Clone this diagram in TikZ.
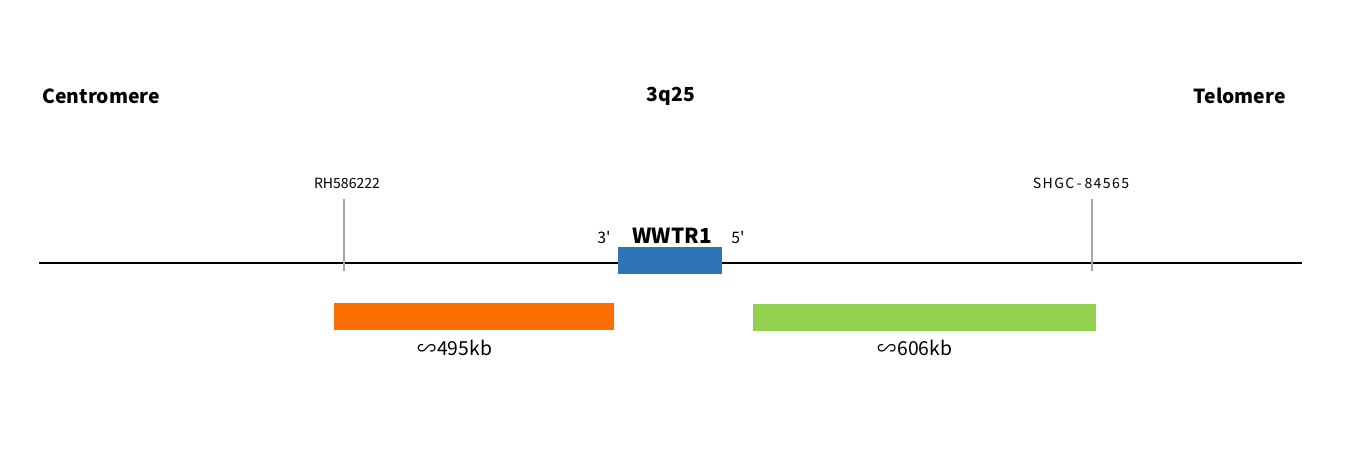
\documentclass[tikz,border=0pt]{standalone}
\usepackage{fontspec}
\setmainfont{Noto Sans CJK SC}
\definecolor{genecol}{HTML}{2E75B6}
\definecolor{leftcol}{HTML}{FF6F00}
\definecolor{rightcol}{HTML}{92D050}
\definecolor{markcol}{HTML}{A6A6A6}
\begin{document}
\begin{tikzpicture}[x=0.02cm, y=0.02cm, every node/.style={inner sep=0pt, font=\fontsize{8}{9}\selectfont}]
    \useasboundingbox (0,0) rectangle (1350,450);
    \tikzset{
      title/.style={font=\bfseries\fontsize{11}{13}\selectfont},
      marker/.style={draw=markcol, line width=1.1pt},
      bar/.style={inner sep=0pt, minimum height=27*0.02cm},
      size/.style={font=\fontsize{11}{13}\selectfont},
      prime/.style={font=\fontsize{9}{10}\selectfont\addfontfeature{Ligatures=TeXOff}}
    }
    % Titles
    \node (cen) [title, anchor=west] at (42,354) {Centromere};
    \node (band) [title] at (671,354) {3q25};
    \node (tel) [title, anchor=east] at (1286,354) {Telomere};
    % Chromosome line
    \coordinate (lstart) at (39,187);
    \coordinate (lend) at (1302,187);
    \draw[line width=1.1pt] (lstart) -- (lend);
    % Markers
    \coordinate (mA) at (344,251);
    \coordinate (mAb) at (344,179);
    \coordinate (mB) at (1092,251);
    \coordinate (mBb) at (1092,179);
    \draw[marker] (mA) -- (mAb);
    \draw[marker] (mB) -- (mBb);
    \node (rh) at (347,267) {RH586222};
    \node (shgc) at (1081,267) {\addfontfeature{LetterSpace=10}SHGC\kern1.5pt-\kern1.5pt84565};
    % Gene
    \node (gene) [fill=genecol, bar, minimum width=104*0.02cm] at (670,189.5) {};
    \node (name) [font=\bfseries\fontsize{11.8}{13}\selectfont] at (672,214) {WWTR1};
    \node (three) [prime] at (604,212) {3'};
    \node (five) [prime] at (738,212) {5'};
    % Ranges
    \node (left) [fill=leftcol, bar, minimum width=280*0.02cm] at (474,133.5) {};
    \node (right) [fill=rightcol, bar, minimum width=343*0.02cm] at (924.5,132.5) {};
    \node (lsize) [size] at (455,102) {∽495kb};
    \node (rsize) [size] at (915,102) {∽606kb};
  \end{tikzpicture}
\end{document}
